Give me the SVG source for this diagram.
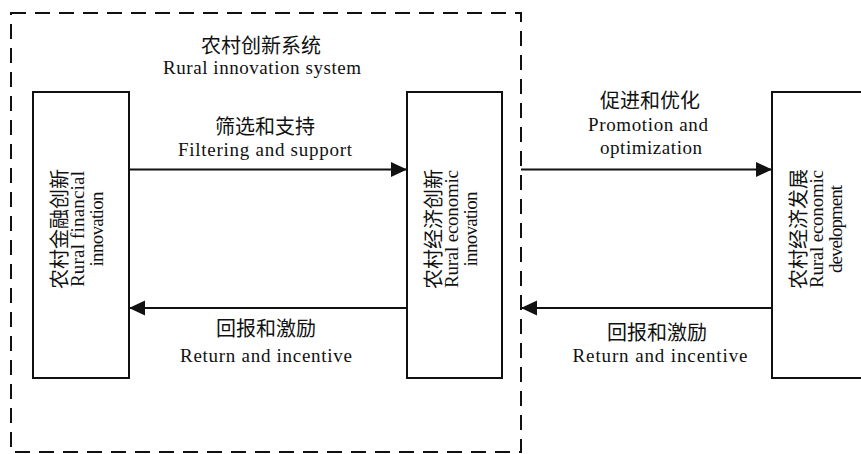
<svg xmlns="http://www.w3.org/2000/svg" width="861" height="454" viewBox="0 0 861 454">
<style>
text{font-family:"Liberation Serif","Noto Sans CJK SC",serif;fill:#111;text-anchor:middle}
.zh{font-size:20px}
.en{font-size:19px}
.vz{font-size:20px}
.ve{font-size:19px}
.box{fill:#fff;stroke:#111;stroke-width:2}
.ln{stroke:#111;stroke-width:2;fill:none}
</style>
<defs>
<marker id="ah" markerUnits="userSpaceOnUse" markerWidth="17" markerHeight="16" refX="16" refY="8" orient="auto">
<path d="M0,0.5 L16,8 L0,15.5 Z" fill="#111"/>
</marker>
</defs>
<rect width="861" height="454" fill="#fff"/>
<g id="system">
<rect x="11" y="13" width="510" height="439" fill="none" stroke="#111" stroke-width="2" stroke-dasharray="15 9"/>
<text class="zh" x="261" y="53">农村创新系统</text>
<text class="en" x="262" y="74" textLength="198">Rural innovation system</text>
</g>
<g id="financial">
<rect class="box" x="33" y="92" width="96" height="286"/>
<text class="vz" transform="translate(66.5,229) rotate(-90)">农村金融创新</text>
<text class="ve" transform="translate(84,229) rotate(-90)" textLength="116">Rural financial</text>
<text class="ve" transform="translate(103,229) rotate(-90)" textLength="75">innovation</text>
</g>
<g id="economic">
<rect class="box" x="407" y="92" width="95" height="286"/>
<text class="vz" transform="translate(440.5,229) rotate(-90)">农村经济创新</text>
<text class="ve" transform="translate(458,229) rotate(-90)" textLength="118">Rural economic</text>
<text class="ve" transform="translate(477,229) rotate(-90)" textLength="75">innovation</text>
</g>
<g id="development">
<rect class="box" x="772" y="92" width="100" height="286"/>
<text class="vz" transform="translate(805.5,229) rotate(-90)">农村经济发展</text>
<text class="ve" transform="translate(823,229) rotate(-90)" textLength="118">Rural economic</text>
<text class="ve" transform="translate(842,229) rotate(-90)" textLength="88">development</text>
</g>
<g id="connectors">
<line class="ln" x1="129" y1="169.5" x2="407" y2="169.5" marker-end="url(#ah)"/>
<line class="ln" x1="407" y1="308" x2="129" y2="308" marker-end="url(#ah)"/>
<line class="ln" x1="521" y1="169.5" x2="772" y2="169.5" marker-end="url(#ah)"/>
<line class="ln" x1="772" y1="308" x2="521" y2="308" marker-end="url(#ah)"/>
<text class="zh" x="265" y="133.5">筛选和支持</text>
<text class="en" x="265" y="156" textLength="174">Filtering and support</text>
<text class="zh" x="266" y="336">回报和激励</text>
<text class="en" x="266" y="362" textLength="172">Return and incentive</text>
<text class="zh" x="650" y="108">促进和优化</text>
<text class="en" x="648" y="131" textLength="120">Promotion and</text>
<text class="en" x="651" y="154" textLength="102">optimization</text>
<text class="zh" x="657" y="340">回报和激励</text>
<text class="en" x="660" y="362" textLength="175">Return and incentive</text>
</g>
</svg>
